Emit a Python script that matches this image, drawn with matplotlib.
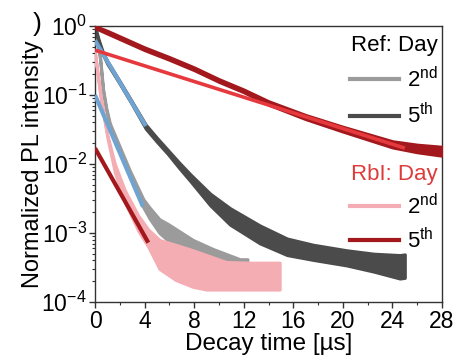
import numpy as np
import matplotlib
matplotlib.use('Agg')
import matplotlib.pyplot as plt
from matplotlib.lines import Line2D
from matplotlib.ticker import MultipleLocator, LogLocator, NullFormatter

plt.rcParams['font.family'] = ['Liberation Sans', 'DejaVu Sans']
plt.rcParams['mathtext.fontset'] = 'custom'
plt.rcParams['mathtext.rm'] = 'Liberation Sans'
plt.rcParams['mathtext.it'] = 'Liberation Sans:italic'
plt.rcParams['mathtext.default'] = 'regular'
plt.rcParams['axes.unicode_minus'] = False

# data, stored as log10(intensity)
# Ref, day 2 (light gray) - lower / upper edge of the noisy trace
t_ref2 = [0, 0.2, 0.4, 0.65, 0.9, 1.2, 1.6, 2.0, 2.8, 3.9, 4.4, 5.2, 5.9, 7.9, 9.5, 11.7, 12.3]
ref2_hi = [-0.10, -0.23, -0.43, -0.91, -1.18, -1.41, -1.58, -1.75, -2.09, -2.51, -2.63, -2.80, -2.87, -3.10, -3.23, -3.38, -3.38]
ref2_lo = [-0.14, -0.27, -0.47, -0.95, -1.22, -1.45, -1.62, -1.81, -2.17, -2.63, -2.79, -3.00, -3.11, -3.34, -3.47, -3.62, -3.62]

# Ref, day 5 (dark gray)
t_ref5 = [0, 0.15, 0.3, 0.6, 1, 2, 3, 4.1, 5.0, 5.9, 6.8, 7.7, 9.3, 10.9, 13.3, 15.5, 17.6, 20.3, 22.5, 24.6, 25.0]
ref5_hi = [-0.01, -0.10, -0.20, -0.36, -0.51, -0.80, -1.10, -1.43, -1.62, -1.80, -1.98, -2.15, -2.43, -2.64, -2.89, -3.08, -3.17, -3.25, -3.30, -3.32, -3.31]
ref5_lo = [-0.05, -0.14, -0.24, -0.40, -0.55, -0.84, -1.14, -1.49, -1.68, -1.86, -2.06, -2.25, -2.60, -2.88, -3.15, -3.32, -3.39, -3.47, -3.56, -3.66, -3.65]

# RbI, day 2 (pink)
t_rb2 = [0, 0.25, 0.5, 1.0, 1.6, 2.4, 3.5, 4.3, 5.2, 6.5, 7.9, 9.0, 10.6, 12.5, 14.9]
rb2_hi = [-0.38, -0.73, -1.06, -1.58, -2.00, -2.38, -2.75, -2.95, -3.10, -3.17, -3.25, -3.32, -3.42, -3.43, -3.43]
rb2_lo = [-0.42, -0.77, -1.10, -1.62, -2.12, -2.55, -2.97, -3.20, -3.52, -3.68, -3.78, -3.82, -3.82, -3.82, -3.82]

# RbI, day 5 (dark red)
t_rb5 = [0, 1, 2, 3, 4, 6, 8, 10, 12, 14, 17, 20, 24, 26, 28]
rb5_hi = [0.0, -0.07, -0.15, -0.23, -0.31, -0.45, -0.60, -0.77, -0.92, -1.09, -1.29, -1.46, -1.67, -1.72, -1.75]
rb5_lo = [-0.03, -0.11, -0.19, -0.27, -0.35, -0.49, -0.64, -0.81, -0.96, -1.14, -1.35, -1.53, -1.76, -1.83, -1.88]

# single-exponential tail fits
t_fit_ref5 = [0, 4.1]
fit_ref5 = [-0.21, -1.45]
t_fit_ref2 = [0, 3.87]
fit_ref2 = [-1.0, -2.62]
t_fit_rb5 = [0, 25]
fit_rb5 = [-0.35, -1.77]
t_fit_rb2 = [0, 4.3]
fit_rb2 = [-1.77, -3.14]

day_labels = ['2$^{nd}$', '5$^{th}$']

c_ref2 = '#9b9b9b'
c_ref5 = '#4b4b4b'
c_rb2 = '#f4adb2'
c_rb5 = '#a3181c'
c_blue = '#6fa3d2'
c_red = '#e6393e'

fig = plt.figure(figsize=(4.59, 3.58), dpi=100)
ax = fig.add_axes([95 / 459, 1 - 302 / 358, 347 / 459, 276 / 358])


def band(t, lo, hi, color, z):
    ax.fill_between(t, np.power(10.0, lo), np.power(10.0, hi), color=color,
                    lw=2.2, edgecolor=color, zorder=z)


band(t_ref2, ref2_lo, ref2_hi, c_ref2, 2)
band(t_ref5, ref5_lo, ref5_hi, c_ref5, 2)
band(t_rb2, rb2_lo, rb2_hi, c_rb2, 3)
band(t_rb5, rb5_lo, rb5_hi, c_rb5, 3)

ax.plot(t_fit_ref5, np.power(10.0, fit_ref5), color=c_blue, lw=3, zorder=4, solid_capstyle='butt')
ax.plot(t_fit_ref2, np.power(10.0, fit_ref2), color=c_blue, lw=3, zorder=4, solid_capstyle='butt')
ax.plot(t_fit_rb5, np.power(10.0, fit_rb5), color=c_red, lw=2.6, zorder=4, solid_capstyle='butt')
ax.plot(t_fit_rb2, np.power(10.0, fit_rb2), color=c_rb5, lw=3, zorder=4, solid_capstyle='butt')

ax.set_yscale('log')
ax.set_xlim(0, 28)
ax.set_ylim(1e-4, 1)
ax.xaxis.set_major_locator(MultipleLocator(4))
ax.xaxis.set_minor_locator(MultipleLocator(2))
ax.yaxis.set_major_locator(LogLocator(base=10, numticks=10))
ax.yaxis.set_minor_locator(LogLocator(base=10, subs=np.arange(2, 10), numticks=20))
ax.yaxis.set_minor_formatter(NullFormatter())
ax.tick_params(which='major', direction='out', length=4, width=1, labelsize=16.5, pad=2, color='#333333')
ax.tick_params(which='minor', direction='out', length=2.5, width=0.8, color='#333333')
for s in ax.spines.values():
    s.set_color('#333333')
    s.set_linewidth(1)

ax.set_xlabel('Decay time [µs]', fontsize=17.5, labelpad=0)
ax.set_ylabel('Normalized PL intensity', fontsize=17)
ax.yaxis.set_label_coords(-0.148, 0.5)

h_ref = [Line2D([], [], color=c_ref2, lw=3), Line2D([], [], color=c_ref5, lw=3)]
leg1 = ax.legend(h_ref, day_labels, title='Ref: Day', loc='upper right',
                 bbox_to_anchor=(0.988, 0.968), frameon=False, fontsize=16,
                 title_fontsize=16, alignment='right', handlelength=2.2,
                 handletextpad=0.35, labelspacing=0.5, borderpad=0, borderaxespad=0)
ax.add_artist(leg1)
h_rb = [Line2D([], [], color=c_rb2, lw=3), Line2D([], [], color=c_rb5, lw=3)]
leg2 = ax.legend(h_rb, day_labels, title='RbI: Day', loc='upper right',
                 bbox_to_anchor=(0.988, 0.50), frameon=False, fontsize=16,
                 title_fontsize=16, alignment='right', handlelength=2.2,
                 handletextpad=0.35, labelspacing=0.4, borderpad=0, borderaxespad=0)
leg2.get_title().set_color('#de3b3b')

fig.text(37 / 459, 1 - 24 / 358, ')', fontsize=19, ha='center', va='center')

fig.savefig('out.png', dpi=100)
